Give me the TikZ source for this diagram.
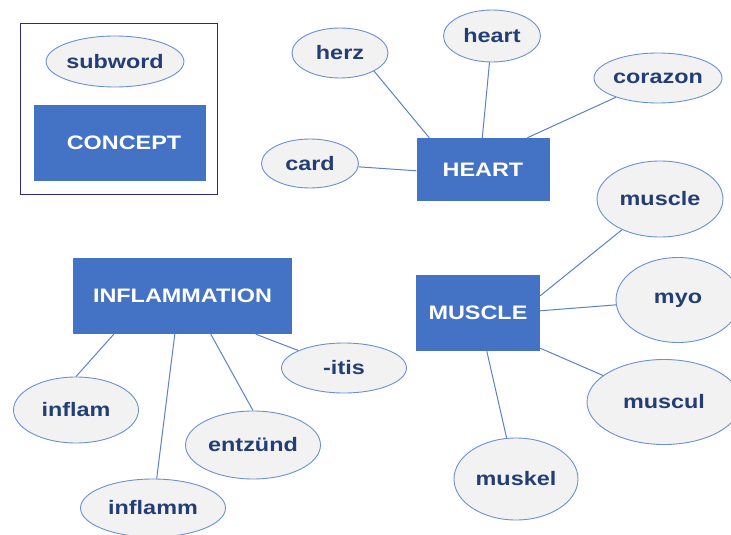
\documentclass[tikz,border=0pt]{standalone}
\usepackage{fontspec}
\setmainfont[FakeStretch=1.2]{Liberation Sans}
\usetikzlibrary{shapes.geometric}
\definecolor{mapbox}{RGB}{68,114,196}
\definecolor{mapoval}{RGB}{242,242,242}
\definecolor{maprim}{RGB}{105,145,212}
\definecolor{mapink}{RGB}{34,62,116}
\definecolor{mapline}{RGB}{90,130,203}
\definecolor{mapframe}{RGB}{42,42,140}

\begin{document}
\begin{tikzpicture}[
  x=1pt, y=-1pt,
  font=\bfseries\fontsize{19.5}{23}\selectfont,
  concept/.style={fill=mapbox, text=white, inner sep=0pt},
  subword/.style={ellipse, draw=maprim, line width=0.9pt, fill=mapoval, text=mapink, inner sep=0pt},
  link/.style={draw=mapline, line width=1pt},
  legendframe/.style={draw=mapframe, line width=1pt}
]
\clip (0,0) rectangle (731,535);
\fill[white] (0,0) rectangle (731,535);

% legend
\node[legendframe, minimum width=197pt, minimum height=170pt] (legend) at (118.5,109) {};
\node[subword, minimum width=115pt, minimum height=51pt] (key-sub) at (115,61.5) {subword};
\node[concept, minimum width=172pt, minimum height=76pt] (key-con) at (120,143) {\hspace{8pt}CONCEPT};

% concepts
\node[concept, minimum width=133pt, minimum height=63pt] (heartc) at (483,169.5) {HEART};
\node[concept, minimum width=124pt, minimum height=76pt] (musclec) at (478,313) {MUSCLE};
\node[concept, minimum width=219pt, minimum height=76pt] (inflc) at (182.5,296) {INFLAMMATION};

% subwords of HEART
\node[subword, minimum width=96pt, minimum height=50pt] (herz) at (340,53) {herz};
\node[subword, minimum width=97pt, minimum height=52pt] (heart) at (492,36) {heart};
\node[subword, minimum width=128pt, minimum height=50pt] (corazon) at (658,78) {corazon};
\node[subword, minimum width=97pt, minimum height=49pt] (card) at (310,163.5) {card};

% subwords of MUSCLE
\node[subword, minimum width=126pt, minimum height=76pt] (muscle) at (660,199) {muscle};
\node[subword, minimum width=124pt, minimum height=85pt] (myo) at (678,300) {myo};
\node[subword, minimum width=154pt, minimum height=85pt] (muscul) at (664,402) {muscul};
\node[subword, minimum width=124pt, minimum height=82pt] (muskel) at (516,479) {muskel};

% subwords of INFLAMMATION
\node[subword, minimum width=125pt, minimum height=66pt] (inflam) at (76,410) {inflam};
\node[subword, minimum width=145pt, minimum height=58pt] (inflamm) at (153,508) {inflamm};
\node[subword, minimum width=135pt, minimum height=68pt] (entzund) at (253,445) {entzünd};
\node[subword, minimum width=125pt, minimum height=50pt] (itis) at (344,368) {-itis};

\draw[link] (herz.-28) -- ([xshift=13pt]heartc.north west);
\draw[link] (heart) -- ([xshift=66pt]heartc.north west);
\draw[link] (corazon) -- ([xshift=111pt]heartc.north west);
\draw[link] (card) -- ([yshift=-33pt]heartc.north west);

\draw[link] (muscle) -- ([yshift=-21pt]musclec.north east);
\draw[link] (myo) -- ([yshift=-36pt]musclec.north east);
\draw[link] (muscul) -- ([yshift=3pt]musclec.south east);
\draw[link] (muskel) -- ([xshift=71pt]musclec.south west);

\draw[link] ([xshift=41pt]inflc.south west) -- (inflam.north);
\draw[link] ([xshift=102pt]inflc.south west) -- (inflamm);
\draw[link] ([xshift=138pt]inflc.south west) -- (entzund.north);
\draw[link] ([xshift=183pt]inflc.south west) -- (itis);
\end{tikzpicture}
\end{document}
